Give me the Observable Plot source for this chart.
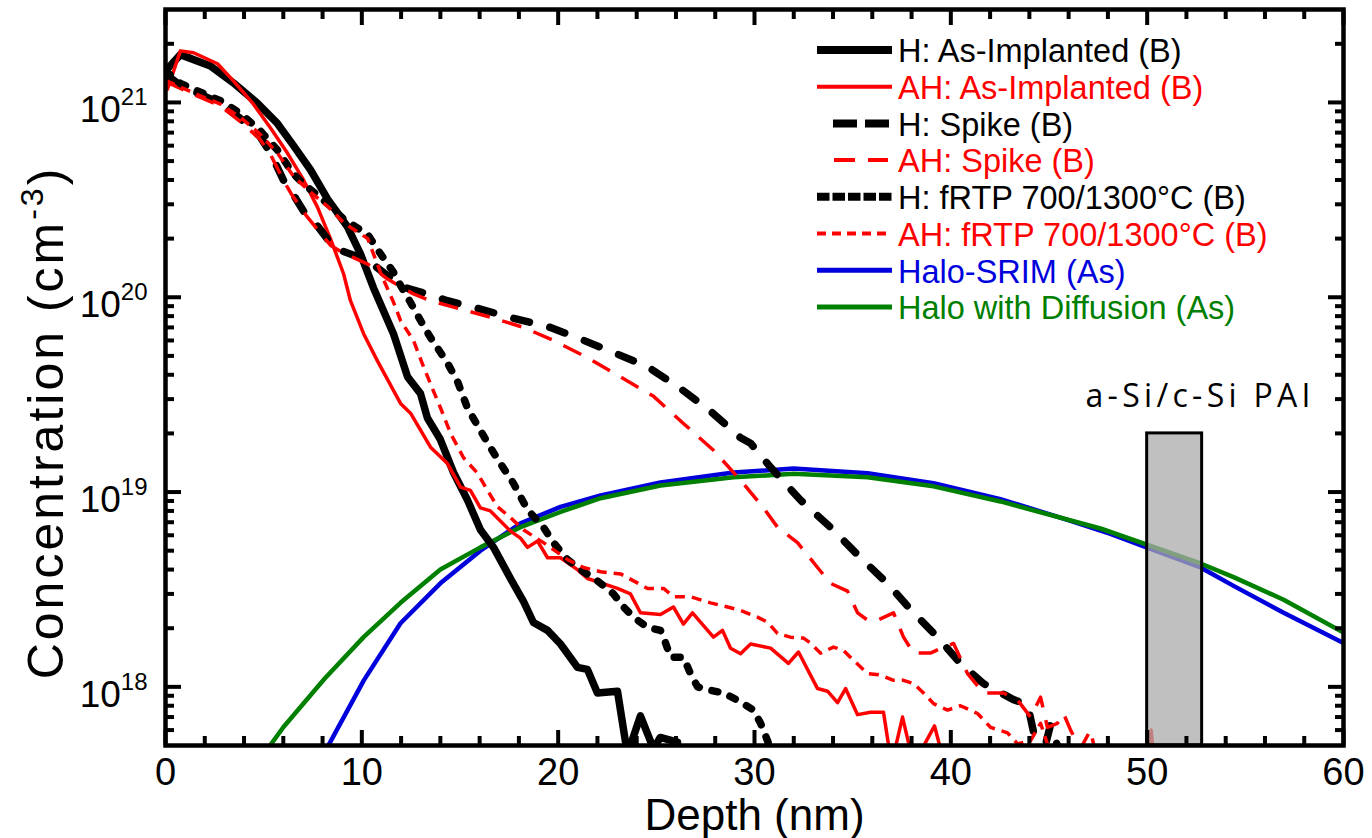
<!DOCTYPE html>
<html>
<head>
<meta charset="utf-8">
<script src="https://cdn.jsdelivr.net/npm/d3@7"></script>
<script src="https://cdn.jsdelivr.net/npm/@observablehq/plot@0.6"></script>
<style>
  html, body { margin: 0; padding: 0; background: #fff; }
  #chart { position: relative; width: 1372px; height: 838px; overflow: hidden; }
  #chart > svg { display: block; }
  #legend { position: absolute; left: 0; top: 0; }
</style>
</head>
<body>
<div id="chart"></div>
<script>
// ---------------- data (depth in nm, concentration in cm^-3) ----------------
const hAsImplDepth = [0, 0.76, 2.29, 3.46, 4.69, 5.70, 6.52, 7.39, 8.25, 9.27, 9.93, 10.59, 11.0, 11.61, 12.33, 12.99, 13.34, 14.0, 14.67, 15.38, 16.04, 16.71, 17.57, 18.23, 18.74, 19.46, 20.12, 20.98, 21.49, 22.0, 23.02, 23.53, 24.19, 24.86, 25.2, 26.08];
const hAsImplConc = [1.45e21, 1.76e21, 1.54e21, 1.26e21, 9.9e20, 7.8e20, 6.0e20, 4.5e20, 3.2e20, 2.3e20, 1.67e20, 1.12e20, 9.0e19, 6.5e19, 3.9e19, 3.2e19, 2.4e19, 1.86e19, 1.26e19, 9.1e18, 6.4e18, 5.2e18, 3.6e18, 2.75e18, 2.14e18, 1.95e18, 1.66e18, 1.26e18, 1.23e18, 9.3e17, 9.5e17, 4.5e17, 7.1e17, 4.8e17, 5.5e17, 5.2e17];

const ahAsImplDepth = [0.1, 0.76, 1.43, 2.65, 3.46, 4.48, 5.35, 6.21, 7.03, 7.74, 8.40, 9.07, 9.42, 10.09, 10.80, 11.97, 12.48, 13.50, 14.36, 15.03, 15.53, 16.04, 16.55, 17.57, 18.08, 18.44, 18.95, 19.46, 20.12, 20.98, 21.49, 23.02, 23.68, 24.19, 25.21, 25.87, 26.38, 26.84, 27.91, 28.37, 28.78, 29.29, 29.80, 30.82, 31.73, 32.24, 33.21, 33.72, 34.23, 34.64, 35.25, 35.91, 36.57, 36.98, 37.54, 38.10, 39.17, 39.68, 49.9, 50.2, 50.5];
const ahAsImplConc = [1.17e21, 1.84e21, 1.8e21, 1.58e21, 1.29e21, 9.8e20, 7.4e20, 5.5e20, 4.0e20, 2.9e20, 2.0e20, 1.32e20, 9.6e19, 6.5e19, 4.7e19, 2.85e19, 2.54e19, 1.70e19, 1.40e19, 1.06e19, 1.02e19, 8.3e18, 8.0e18, 6.3e18, 5.8e18, 5.2e18, 5.6e18, 4.6e18, 4.6e18, 4.0e18, 3.6e18, 3.2e18, 3.0e18, 2.4e18, 2.35e18, 2.57e18, 2.1e18, 2.4e18, 1.8e18, 1.95e18, 1.58e18, 1.48e18, 1.66e18, 1.58e18, 1.32e18, 1.51e18, 9.8e17, 9.5e17, 8.3e17, 9.8e17, 7.2e17, 7.4e17, 7.4e17, 4.0e17, 7.0e17, 4.0e17, 6.3e17, 4.0e17, 3.0e17, 6.0e17, 3.0e17];

const hSpikeDepth = [0, 0.76, 1.6, 2.8, 3.8, 4.8, 5.35, 6.0, 6.4, 7.2, 7.5, 8.4, 8.9, 10.3, 11.31, 12.33, 13.34, 14.36, 16.04, 17.72, 19.61, 21.14, 22.82, 24.55, 26.23, 27.76, 29.29, 29.8, 30.82, 32.34, 33.87, 35.40, 36.77, 38.10, 39.32, 40.49, 41.66, 43.19, 43.91, 44.57, 45.08, 45.74];
const hSpikeConc = [1.4e21, 1.22e21, 1.12e21, 9.9e20, 8.3e20, 6.7e20, 5.5e20, 4.0e20, 3.5e20, 2.6e20, 2.5e20, 1.9e20, 1.74e20, 1.55e20, 1.29e20, 1.11e20, 1.04e20, 9.6e19, 8.7e19, 7.8e19, 7.0e19, 6.1e19, 5.2e19, 4.4e19, 3.4e19, 2.6e19, 1.9e19, 1.78e19, 1.34e19, 9.1e18, 6.6e18, 4.6e18, 3.4e18, 2.4e18, 1.8e18, 1.32e18, 1.04e18, 8.6e17, 8.1e17, 4.0e17, 6.4e17, 4.0e17];

const ahSpikeDepth = [0, 0.76, 1.6, 2.8, 3.8, 4.8, 5.35, 6.0, 6.4, 7.2, 8.4, 9.0, 10.3, 11.31, 12.63, 13.5, 14.67, 16.55, 18.23, 19.76, 21.49, 23.18, 24.86, 26.38, 27.91, 29.29, 30.46, 31.17, 32.19, 33.21, 33.87, 34.74, 35.25, 35.76, 36.27, 37.08, 37.59, 38.10, 38.96, 39.63, 40.14, 40.85, 41.66, 42.68, 43.40, 44.06, 44.57, 44.92, 45.43, 45.74, 46.10, 46.60, 47.11, 47.5];
const ahSpikeConc = [1.28e21, 1.18e21, 1.08e21, 9.6e20, 8.0e20, 6.5e20, 5.4e20, 4.0e20, 3.4e20, 2.6e20, 1.85e20, 1.7e20, 1.48e20, 1.24e20, 1.04e20, 9.6e19, 8.9e19, 7.9e19, 7.0e19, 6.0e19, 4.9e19, 3.9e19, 3.1e19, 2.25e19, 1.64e19, 1.15e19, 8.3e18, 6.6e18, 5.5e18, 4.1e18, 3.4e18, 3.1e18, 2.4e18, 2.2e18, 2.2e18, 2.4e18, 1.8e18, 1.49e18, 1.49e18, 1.6e18, 1.67e18, 1.17e18, 9.3e17, 9.3e17, 8.55e17, 7.0e17, 8.85e17, 6.2e17, 6.5e17, 7.3e17, 6.0e17, 4.8e17, 6.0e17, 4.0e17];

const hFrtpDepth = [0, 0.76, 1.6, 2.8, 3.8, 4.8, 5.7, 6.5, 7.2, 8.3, 9.1, 10.3, 10.9, 11.6, 11.97, 12.33, 12.99, 13.5, 13.85, 14.36, 14.87, 15.38, 16.04, 16.55, 17.06, 17.72, 18.44, 19.25, 19.76, 20.48, 21.14, 22.0, 22.82, 23.33, 23.84, 24.55, 25.21, 25.47, 25.72, 26.38, 26.74, 27.1, 27.76, 28.42, 29.13, 29.95, 30.31, 30.66, 30.9];
const hFrtpConc = [1.45e21, 1.25e21, 1.15e21, 1.02e21, 8.8e20, 7.2e20, 5.7e20, 4.3e20, 3.7e20, 3.0e20, 2.5e20, 2.1e20, 1.7e20, 1.35e20, 1.15e20, 1.0e20, 7.6e19, 6.2e19, 5.5e19, 4.6e19, 3.7e19, 2.7e19, 2.07e19, 1.69e19, 1.4e19, 1.11e19, 8.1e18, 6.6e18, 5.5e18, 4.5e18, 4.0e18, 3.5e18, 3.0e18, 2.57e18, 2.28e18, 2.02e18, 1.95e18, 1.68e18, 1.42e18, 1.42e18, 1.17e18, 1.0e18, 9.6e17, 9.3e17, 8.55e17, 7.6e17, 6.5e17, 5.3e17, 4.5e17];

const ahFrtpDepth = [0, 0.76, 1.6, 2.8, 3.8, 4.8, 5.7, 6.5, 7.2, 8.3, 9.1, 10.3, 11.0, 11.6, 11.97, 12.63, 13.14, 13.65, 14.01, 14.52, 15.18, 15.89, 16.40, 16.91, 17.57, 18.23, 19.25, 20.48, 21.29, 22.16, 23.18, 23.84, 24.55, 25.37, 25.87, 26.74, 27.76, 28.63, 29.29, 30.15, 30.66, 31.17, 31.83, 32.5, 32.85, 33.36, 34.02, 34.53, 35.04, 35.76, 36.42, 37.08, 37.59, 38.10, 38.61, 39.12, 39.83, 40.49, 41.36, 42.02, 42.89, 43.40, 44.06, 44.57, 45.1];
const ahFrtpConc = [1.3e21, 1.2e21, 1.1e21, 9.8e20, 8.4e20, 6.9e20, 5.5e20, 4.2e20, 3.6e20, 2.9e20, 2.4e20, 2.0e20, 1.3e20, 9.5e19, 7.6e19, 6.0e19, 4.4e19, 3.3e19, 2.7e19, 2.0e19, 1.5e19, 1.25e19, 1.02e19, 8.4e18, 7.4e18, 6.4e18, 5.5e18, 4.5e18, 4.1e18, 3.9e18, 3.8e18, 3.5e18, 3.2e18, 3.2e18, 2.9e18, 2.9e18, 2.7e18, 2.57e18, 2.47e18, 2.28e18, 2.15e18, 1.88e18, 1.8e18, 1.78e18, 1.68e18, 1.49e18, 1.6e18, 1.54e18, 1.37e18, 1.17e18, 1.15e18, 1.08e18, 1.08e18, 1.04e18, 9.3e17, 8.2e17, 7.6e17, 8.0e17, 7.3e17, 6.2e17, 5.8e17, 5.1e17, 5.3e17, 6.5e17, 4.5e17];

const haloSrimDepth = [8.1, 10.1, 11.97, 14.0, 16.04, 18.08, 20.12, 22.16, 25.21, 28.93, 31.99, 35.76, 39.12, 42.53, 45.94, 48.13, 50.17, 52.72, 54.4, 56.95, 60];
const haloSrimConc = [4.6e17, 1.08e18, 2.12e18, 3.4e18, 5.0e18, 6.9e18, 8.4e18, 9.6e18, 1.12e19, 1.26e19, 1.32e19, 1.25e19, 1.11e19, 9.2e18, 7.2e18, 6.1e18, 5.1e18, 4.1e18, 3.3e18, 2.4e18, 1.68e18];

const haloDiffDepth = [5.2, 6.0, 8.1, 10.09, 11.97, 14.0, 16.04, 18.08, 20.12, 22.16, 25.21, 28.93, 31.99, 35.76, 39.12, 42.53, 47.62, 50.17, 52.72, 54.4, 56.95, 60];
const haloDiffConc = [4.8e17, 6.2e17, 1.1e18, 1.8e18, 2.7e18, 4.0e18, 5.2e18, 6.6e18, 7.9e18, 9.3e18, 1.08e19, 1.19e19, 1.24e19, 1.19e19, 1.07e19, 8.95e18, 6.5e18, 5.3e18, 4.3e18, 3.66e18, 2.8e18, 1.9e18];

const seriesNames = ["H: As-Implanted (B)", "AH: As-Implanted (B)", "H: Spike (B)", "AH: Spike (B)",
  "H: fRTP 700/1300°C (B)", "AH: fRTP 700/1300°C (B)", "Halo-SRIM (As)", "Halo with Diffusion (As)"];

// PAI region (a-Si/c-Si interface)
const paiDepthRange = [50, 52.8];
const paiTopConc = 2e19;
const paiLabel = "a-Si/c-Si PAI";
const paiLabelDepth = 52.7;
const paiLabelConc = 3.1e19;

// axes
const xDomain = [0, 60];
const yDomain = [5e17, 3e21];
const xMajorTicks = [0, 10, 20, 30, 40, 50, 60];
const xMinorTicks = d3.range(0, 61, 2).filter(v => v % 10 !== 0);
const yMajorTicks = [1e18, 1e19, 1e20, 1e21];
const yMinorTicks = [6e17, 7e17, 8e17, 9e17,
  2e18, 3e18, 4e18, 5e18, 6e18, 7e18, 8e18, 9e18,
  2e19, 3e19, 4e19, 5e19, 6e19, 7e19, 8e19, 9e19,
  2e20, 3e20, 4e20, 5e20, 6e20, 7e20, 8e20, 9e20, 2e21];
const xTitle = "Depth (nm)";
const yTitle = "Concentration (cm^-3)";

// ---------------- styles ----------------
const FONT = "'Liberation Sans', Arial, Helvetica, sans-serif";
const RED = "#ff0000", BLACK = "#000000", BLUE = "#0000dd", GREEN = "#008000";

const series = [
  {name: seriesNames[6], depth: haloSrimDepth, conc: haloSrimConc, color: BLUE, width: 4.5, dash: null, cap: "round",
   legend: {x1: 817, x2: 892, width: 5, dash: null}, order: 6},
  {name: seriesNames[7], depth: haloDiffDepth, conc: haloDiffConc, color: GREEN, width: 4.5, dash: null, cap: "round",
   legend: {x1: 817, x2: 892, width: 5, dash: null}, order: 7},
  {name: seriesNames[0], depth: hAsImplDepth, conc: hAsImplConc, color: BLACK, width: 7.5, dash: null, cap: "round",
   legend: {x1: 817, x2: 892, width: 8, dash: null}, order: 0},
  {name: seriesNames[1], depth: ahAsImplDepth, conc: ahAsImplConc, color: RED, width: 3.5, dash: null, cap: "round",
   legend: {x1: 817, x2: 892, width: 4, dash: null}, order: 1},
  {name: seriesNames[2], depth: hSpikeDepth, conc: hSpikeConc, color: BLACK, width: 7.5, dash: "16,21", cap: "round",
   legend: {x1: 833, x2: 891, width: 8, dash: "24,8"}, order: 2},
  {name: seriesNames[3], depth: ahSpikeDepth, conc: ahSpikeConc, color: RED, width: 3.5, dash: "20,13", cap: "butt",
   legend: {x1: 834, x2: 888, width: 4, dash: "21,13"}, order: 3},
  {name: seriesNames[4], depth: hFrtpDepth, conc: hFrtpConc, color: BLACK, width: 7.5, dash: "6,13", cap: "round",
   legend: {x1: 817, x2: 892, width: 8, dash: "12.5,3"}, order: 4},
  {name: seriesNames[5], depth: ahFrtpDepth, conc: ahFrtpConc, color: RED, width: 3.5, dash: "10,7", cap: "butt",
   legend: {x1: 817, x2: 892, width: 4, dash: "9,6"}, order: 5}
];

const rowsOf = s => s.depth.map((d, i) => ({series: s.name, depth: d, conc: s.conc[i]}));

const lineMarks = series.map(s => Plot.line(rowsOf(s), {
  x: "depth", y: "conc", stroke: s.color, strokeWidth: s.width,
  strokeDasharray: s.dash ?? undefined, strokeLinecap: s.cap, strokeLinejoin: "round",
  clip: true
}));

const tickStroke = 4;
const chart = Plot.plot({
  width: 1372, height: 838,
  marginLeft: 165, marginRight: 29, marginTop: 9, marginBottom: 93,
  style: {fontFamily: FONT, color: "black", background: "white"},
  x: {domain: xDomain, label: null},
  y: {type: "log", domain: yDomain, label: null},
  marks: [
    ...lineMarks,
    Plot.rect([paiDepthRange], {x1: d => d[0], x2: d => d[1], y1: yDomain[0], y2: paiTopConc,
      fill: "#ababab", fillOpacity: 0.75, stroke: "black", strokeWidth: 3}),
    Plot.text([paiLabel], {x: paiLabelDepth, y: paiLabelConc, text: d => d,
      fontSize: 32, fontFamily: "'Open Sans', 'DejaVu Sans', sans-serif", fill: "black"}),
    Plot.frame({stroke: "black", strokeWidth: 4.5}),
    // inward ticks on all four sides
    Plot.axisX(xMajorTicks, {anchor: "bottom", tickSize: -15, strokeWidth: tickStroke, tickFormat: () => "", label: null}),
    Plot.axisX(xMinorTicks, {anchor: "bottom", tickSize: -9, strokeWidth: tickStroke, tickFormat: () => "", label: null}),
    Plot.axisX(xMajorTicks, {anchor: "top", tickSize: -15, strokeWidth: tickStroke, tickFormat: () => "", label: null}),
    Plot.axisX(xMinorTicks, {anchor: "top", tickSize: -9, strokeWidth: tickStroke, tickFormat: () => "", label: null}),
    Plot.axisY(yMajorTicks, {anchor: "left", tickSize: -16, strokeWidth: tickStroke, tickFormat: () => "", label: null}),
    Plot.axisY(yMinorTicks, {anchor: "left", tickSize: -9, strokeWidth: tickStroke, tickFormat: () => "", label: null}),
    Plot.axisY(yMajorTicks, {anchor: "right", tickSize: -16, strokeWidth: tickStroke, tickFormat: () => "", label: null}),
    Plot.axisY(yMinorTicks, {anchor: "right", tickSize: -9, strokeWidth: tickStroke, tickFormat: () => "", label: null}),
    // tick labels
    Plot.axisX(xMajorTicks, {anchor: "bottom", tickSize: 0, tickPadding: 13, fontSize: 38, label: null}),
    Plot.axisY(yMajorTicks, {anchor: "left", tickSize: 0, tickPadding: 18, fontSize: 37, dy: 8, label: null,
      tickFormat: d => `10^${Math.round(Math.log10(d))}`}),
    // axis titles
    Plot.text([xTitle], {frameAnchor: "bottom", lineAnchor: "middle", dy: 70, text: d => d, fontSize: 44, fill: "black"}),
    Plot.text([yTitle], {frameAnchor: "left", textAnchor: "middle", lineAnchor: "middle", dx: -119, dy: 45,
      rotate: -90, text: d => d, fontSize: 50, fill: "black"})
  ]
});

document.getElementById("chart").appendChild(chart);

// superscripts for exponent labels
d3.select(chart).selectAll("text").each(function () {
  const t = this.textContent;
  const m = /^10\^(-?\d+)$/.exec(t);
  if (m) {
    this.textContent = "";
    d3.select(this).append("tspan").text("10");
    d3.select(this).append("tspan").attr("dy", -17).attr("font-size", 24).text(m[1]);
  } else if (t === yTitle) {
    this.textContent = "";
    this.setAttribute("letter-spacing", "3");
    d3.select(this).append("tspan").text("Concentration (cm");
    d3.select(this).append("tspan").attr("dy", -20).attr("font-size", 32).text("-3");
    d3.select(this).append("tspan").attr("dy", 20).text(")");
  } else if (t === paiLabel) {
    this.setAttribute("letter-spacing", "4.3");
  }
});

// legend (overlay inside the plot area, upper right)
const legendSvg = d3.select("#chart").append("svg").attr("id", "legend")
  .attr("width", 1372).attr("height", 838);
const legendTop = 51, legendStep = 36.7, legendTextX = 898;
const byOrder = series.slice().sort((a, b) => a.order - b.order);
byOrder.forEach((s, i) => {
  const cy = legendTop + i * legendStep;
  legendSvg.append("line")
    .attr("x1", s.legend.x1).attr("x2", s.legend.x2).attr("y1", cy - 1).attr("y2", cy - 1)
    .attr("stroke", s.color).attr("stroke-width", s.legend.width)
    .attr("stroke-dasharray", s.legend.dash);
  legendSvg.append("text")
    .attr("x", legendTextX).attr("y", cy).attr("dy", "0.35em")
    .attr("fill", s.color)
    .style("font-family", FONT).style("font-size", "32.5px")
    .text(s.name);
});
</script>
</body>
</html>
